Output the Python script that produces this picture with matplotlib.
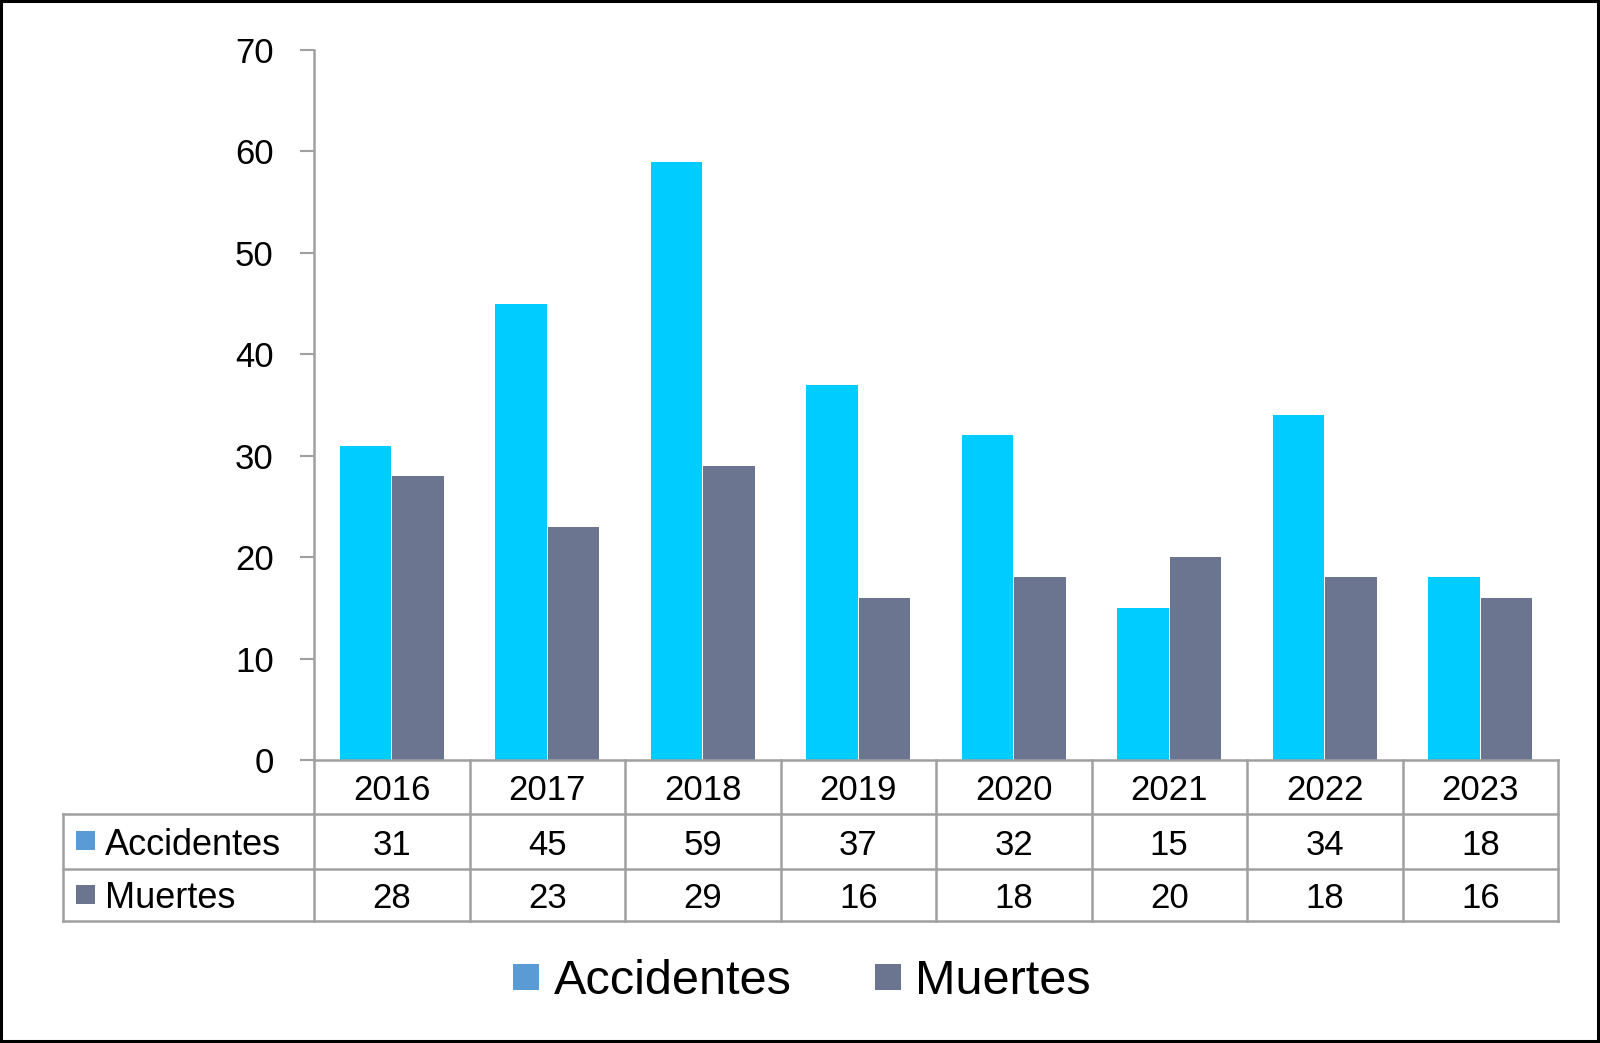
import matplotlib
matplotlib.use("Agg")
import matplotlib.pyplot as plt
from matplotlib.patches import Rectangle
from matplotlib.lines import Line2D
import numpy as np

years = ["2016", "2017", "2018", "2019", "2020", "2021", "2022", "2023"]
series_names = ["Accidentes", "Muertes"]
accidentes = [31, 45, 59, 37, 32, 15, 34, 18]
muertes = [28, 23, 29, 16, 18, 20, 18, 16]
y_ticks = [0, 10, 20, 30, 40, 50, 60, 70]

bar_colors = ["#00CCFF", "#6B758F"]
key_colors = ["#5B9BD5", "#6B758F"]
grid_gray = "#A0A0A0"

plt.rcParams['font.family'] = ['Liberation Sans', 'DejaVu Sans']

W, H = 1600, 1043
fig = plt.figure(figsize=(W / 100, H / 100), dpi=100)

def fx(x):
    return x / W

def fy(y):
    return 1 - y / H

ax_l, ax_r, ax_t, ax_b = 314, 1558, 50, 760
ax = fig.add_axes([fx(ax_l), fy(ax_b), fx(ax_r) - fx(ax_l), fy(ax_t) - fy(ax_b)])

x = np.arange(len(years))
bw = 0.33
ax.bar(x - bw / 2 - 0.003, accidentes, width=bw, color=bar_colors[0], linewidth=0)
ax.bar(x + bw / 2 + 0.003, muertes, width=bw, color=bar_colors[1], linewidth=0)
ax.set_xlim(-0.5, len(years) - 0.5)
ax.set_ylim(0, 70)
ax.set_yticks(y_ticks)
ax.set_yticklabels([str(t) for t in y_ticks], fontsize=25)
ax.tick_params(axis='y', length=10, width=1.5, color=grid_gray, pad=19)
ax.set_xticks([])
for s in ['top', 'right']:
    ax.spines[s].set_visible(False)
for s in ['left', 'bottom']:
    ax.spines[s].set_color(grid_gray)
    ax.spines[s].set_linewidth(1.8)

# data table
row_y = [760, 814, 869, 921]
tbl_left = 63
cat_w = (ax_r - ax_l) / len(years)
lw = 1.8

def hline(y, x0, x1):
    fig.add_artist(Line2D([fx(x0), fx(x1)], [fy(y), fy(y)], color=grid_gray, lw=lw))

def vline(x0, y0, y1):
    fig.add_artist(Line2D([fx(x0), fx(x0)], [fy(y0), fy(y1)], color=grid_gray, lw=lw))

hline(row_y[1], tbl_left, ax_r)
hline(row_y[2], tbl_left, ax_r)
hline(row_y[3], tbl_left, ax_r)
vline(tbl_left, row_y[1], row_y[3])
for k in range(len(years) + 1):
    vline(ax_l + k * cat_w, row_y[0], row_y[3])

for i, yr in enumerate(years):
    cx = ax_l + (i + 0.5) * cat_w
    fig.text(fx(cx), fy((row_y[0] + row_y[1]) / 2 + 4), yr, ha='center', va='center', fontsize=25)
    fig.text(fx(cx), fy((row_y[1] + row_y[2]) / 2 + 4), str(accidentes[i]), ha='center', va='center', fontsize=25)
    fig.text(fx(cx), fy((row_y[2] + row_y[3]) / 2 + 4), str(muertes[i]), ha='center', va='center', fontsize=25)

for j, (name, col) in enumerate(zip(series_names, key_colors)):
    cy = (row_y[j + 1] + row_y[j + 2]) / 2
    sq = 19
    fig.add_artist(Rectangle((fx(76), fy(cy + sq / 2 - 1)), sq / W, sq / H, color=col, lw=0))
    fig.text(fx(105), fy(cy + 4), name, ha='left', va='center', fontsize=26)

# legend
leg_y = 977
leg_items = [(513, 554), (875, 915)]
for (sqx, tx), name, col in zip(leg_items, series_names, key_colors):
    sq = 26
    fig.add_artist(Rectangle((fx(sqx), fy(leg_y + sq / 2)), sq / W, sq / H, color=col, lw=0))
    fig.text(fx(tx), fy(leg_y + 4), name, ha='left', va='center', fontsize=35)

# border
fig.add_artist(Rectangle((fx(1), fy(H - 2)), (W - 3) / W, (H - 3) / H, fill=False, edgecolor='black', lw=2.2))

fig.savefig("out.png", dpi=100)
